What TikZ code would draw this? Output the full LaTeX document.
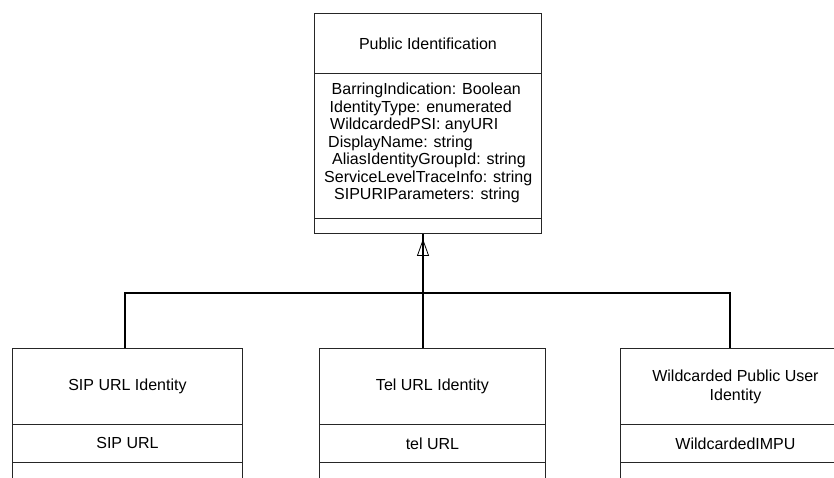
\documentclass[tikz,border=0pt]{standalone}
\usepackage{fontspec}
\setmainfont{Liberation Sans}
\usetikzlibrary{arrows.meta}
\begin{document}
\begin{tikzpicture}[x=1pt,y=-1pt,
  every node/.style={font=\fontsize{16}{19}\selectfont},
  comp/.style={draw=black!85, line width=0.9pt, rectangle, inner sep=0pt, anchor=north west, align=center},
  attr/.style={inner sep=0pt, anchor=base west},
  conn/.style={draw=black, line width=1.8pt},
  gen/.style={draw=black, line width=0.8pt, -{Triangle[open,length=17pt,width=12pt]}, shorten >=5pt}]
\useasboundingbox (0,0) rectangle (834,477);
\clip (0,0) rectangle (834,477);
% top class
\node[comp, minimum width=227pt, minimum height=60pt] (pubname) at (314,13) {\raisebox{-2pt}{Public Identification}};
\node[comp, minimum width=227pt, minimum height=145pt] (pubattr) at (314,73) {};
\node[comp, minimum width=227pt, minimum height=15pt] (pubops) at (314,218) {};
\node[attr] (a1) at (331.5,94.5) {BarringIndication: Boolean};
\node[attr] (a2) at (329.5,112.0) {IdentityType: enumerated};
\node[attr] (a3) at (330,129.5) {WildcardedPSI: anyURI};
\node[attr] (a4) at (328,147.0) {DisplayName: string};
\node[attr] (a5) at (332,164.5) {AliasIdentityGroupId: string};
\node[attr] (a6) at (324,182.0) {ServiceLevelTraceInfo: string};
\node[attr] (a7) at (334,199.5) {SIPURIParameters: string};
% SIP URL Identity
\node[comp, minimum width=230pt, minimum height=76pt] (sipname) at (12,348) {SIP URL Identity};
\node[comp, minimum width=230pt, minimum height=38pt] (sipattr) at (12,424) {SIP URL};
\node[comp, minimum width=230pt, minimum height=40pt] (sipops) at (12,462) {};
% Tel URL Identity
\node[comp, minimum width=226pt, minimum height=76pt] (telname) at (319,348) {Tel URL Identity};
\node[comp, minimum width=226pt, minimum height=38pt] (telattr) at (319,424) {tel URL};
\node[comp, minimum width=226pt, minimum height=40pt] (telops) at (319,462) {};
% Wildcarded Public User Identity
\node[comp, minimum width=230pt, minimum height=76pt] (wildname) at (620,348) {Wildcarded Public User\\Identity};
\node[comp, minimum width=230pt, minimum height=38pt] (wildattr) at (620,424) {WildcardedIMPU};
\node[comp, minimum width=230pt, minimum height=40pt] (wildops) at (620,462) {};
% connectors
\coordinate (jl) at (125,293);
\coordinate (jm) at (423,293);
\coordinate (jr) at (730,293);
\draw[conn] (sipname.north -| jl) -- (jl) -- (jr) -- (wildname.north -| jr);
\draw[conn] (telname.north -| jm) -- (pubops.south -| jm);
\draw[gen] (jm) -- (pubops.south -| jm);
\end{tikzpicture}
\end{document}
